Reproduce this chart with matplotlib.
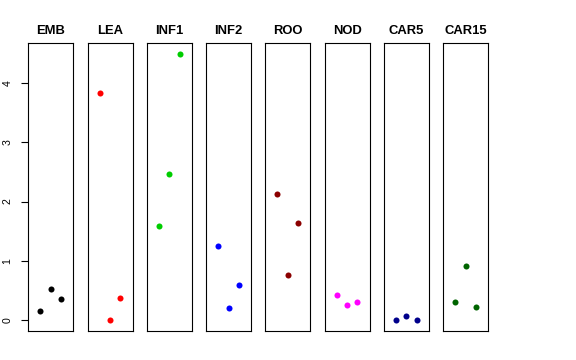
import matplotlib
matplotlib.use("Agg")
import matplotlib.pyplot as plt

plt.rcParams['font.family'] = ['Liberation Sans', 'DejaVu Sans']

tissues = ["EMB", "LEA", "INF1", "INF2", "ROO", "NOD", "CAR5", "CAR15"]
colors = ["black", "red", "#00CD00", "blue", "#8B0000", "magenta", "#00008B", "#006400"]
emb = [0.16, 0.53, 0.36]
lea = [3.83, 0.005, 0.37]
inf1 = [1.58, 2.47, 4.49]
inf2 = [1.26, 0.21, 0.59]
roo = [2.12, 0.76, 1.64]
nod = [0.42, 0.26, 0.31]
car5 = [0.005, 0.07, 0.005]
car15 = [0.31, 0.92, 0.23]
values = [emb, lea, inf1, inf2, roo, nod, car5, car15]
reps = [1, 2, 3]
yticks = [0, 1, 2, 3, 4]

W, H = 576, 360
fig = plt.figure(figsize=(W / 100, H / 100), dpi=100)

ymin, ymax = 0.0, 4.49
yr = ymax - ymin
ylim = (ymin - 0.04 * yr, ymax + 0.04 * yr)
xlim = (0 - 0.16, 4 + 0.16)

left0 = 28.3
step = 59.25
pw = 45
top = 43
bottom = 331

for i, (name, col, vals) in enumerate(zip(tissues, colors, values)):
    l = left0 + i * step
    ax = fig.add_axes([l / W, (H - bottom) / H, pw / W, (bottom - top) / H])
    ax.scatter(reps, vals, s=19, color=col, linewidths=0, zorder=3)
    ax.set_xlim(*xlim)
    ax.set_ylim(*ylim)
    ax.set_xticks([])
    for sp in ax.spines.values():
        sp.set_linewidth(0.8)
        sp.set_color("black")
    ax.set_title(name, fontsize=9.4, fontweight="bold", pad=6.5)
    if i == 0:
        ax.set_yticks(yticks)
        ax.set_yticklabels([str(t) for t in yticks], rotation=90, va="center", fontsize=7.6)
        ax.tick_params(axis="y", length=5.2, width=0.8, pad=6.3)
    else:
        ax.set_yticks([])

fig.savefig("out.png", dpi=100)
